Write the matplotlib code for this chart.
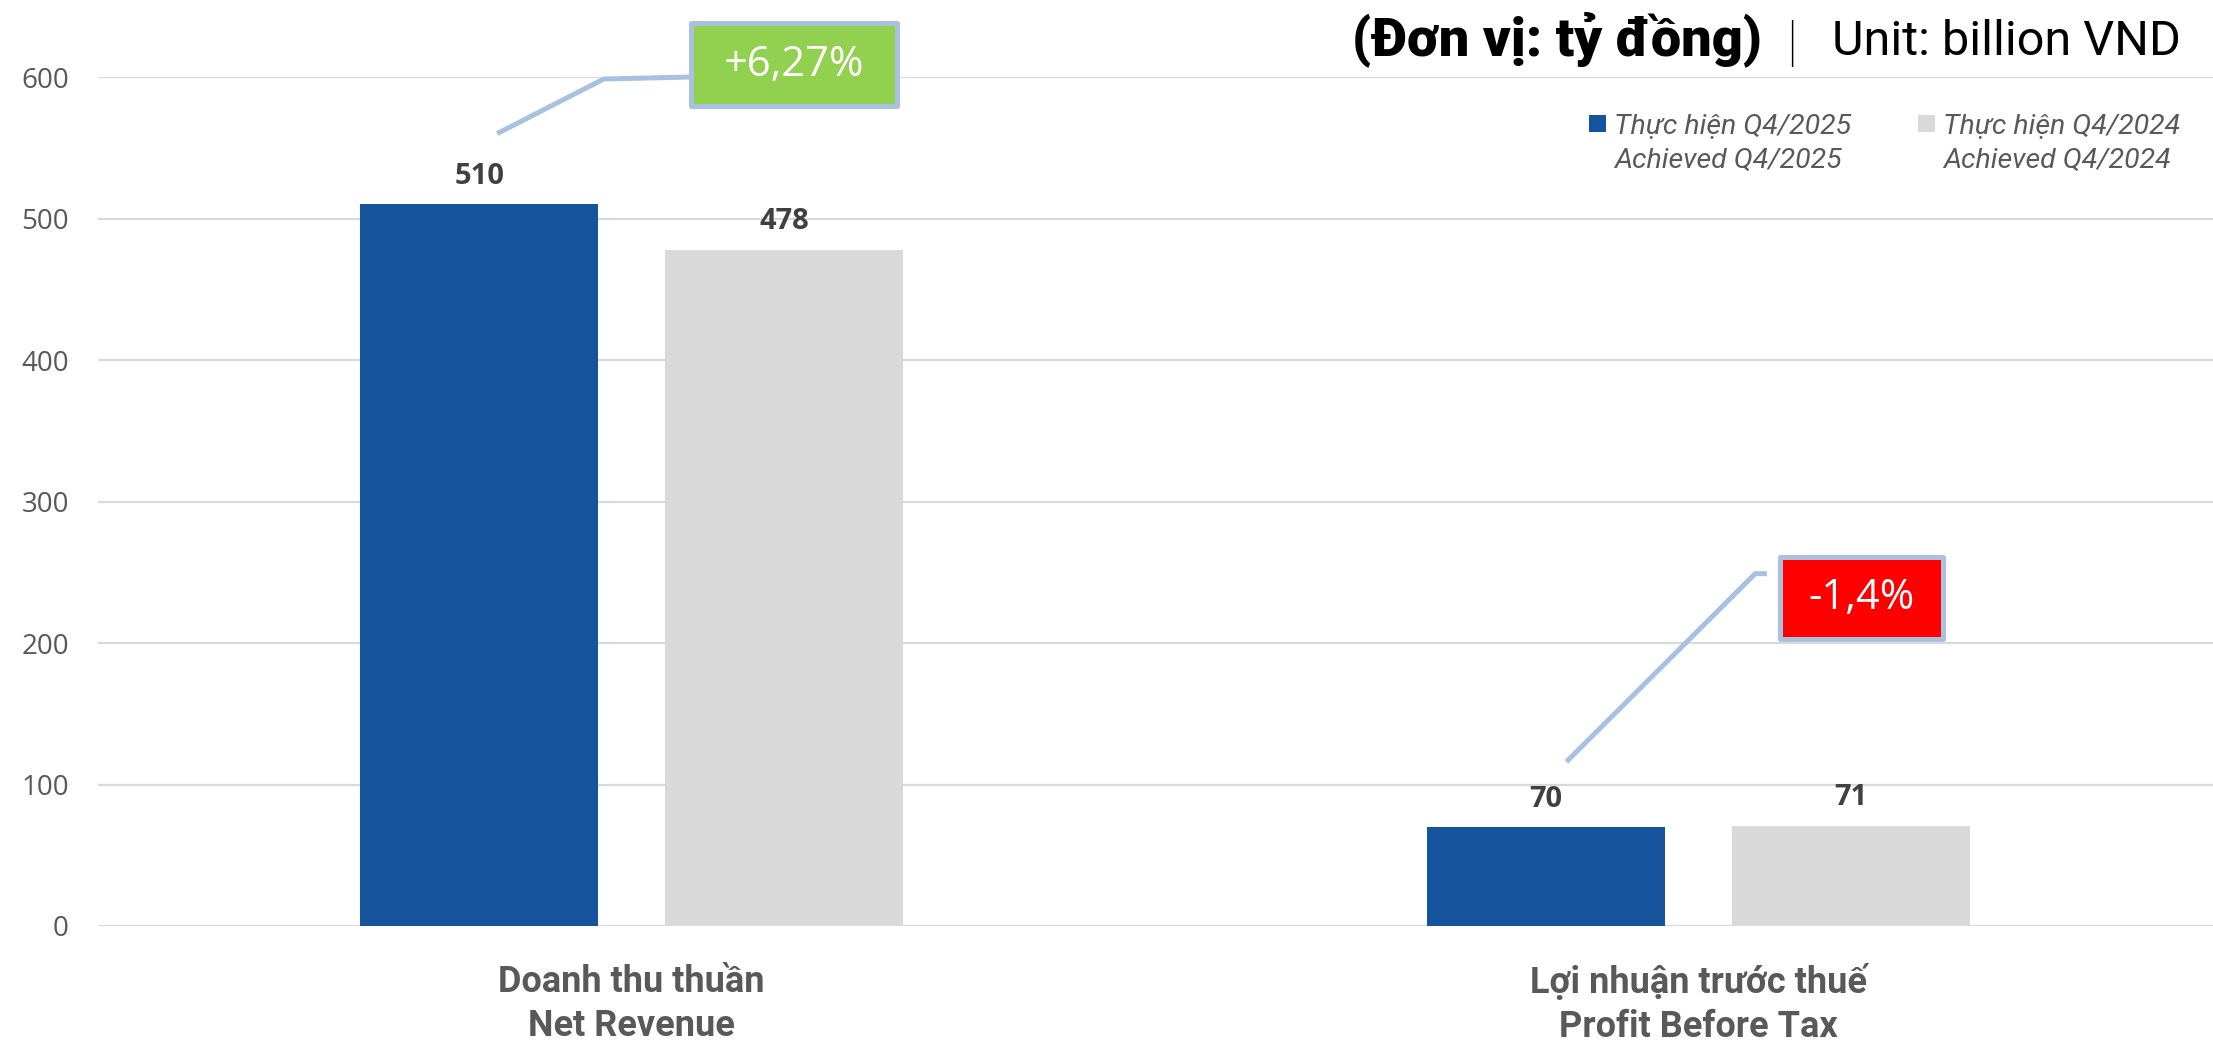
import matplotlib
matplotlib.use('Agg')
import matplotlib.pyplot as plt
from matplotlib.patches import Rectangle
import numpy as np

# ---------------- data ----------------
categories_vi = ['Doanh thu thuần', 'Lợi nhuận trước thuế']
categories_en = ['Net Revenue', 'Profit Before Tax']
series_2025 = ('Thực hiện Q4/2025', 'Achieved Q4/2025')
series_2024 = ('Thực hiện Q4/2024', 'Achieved Q4/2024')
values_2025 = [510, 70]
values_2024 = [478, 71]
changes = ['+6,27%', '-1,4%']
change_colors = ['#92D050', '#FF0000']
yticks = [0, 100, 200, 300, 400, 500, 600]

# ---------------- style ----------------
BLUE = '#15539D'
GREY = '#D9D9D9'
TXT = '#595959'
LEAD = '#A9C1DE'

W, H = 2213, 1044
fig = plt.figure(figsize=(W / 100, H / 100), dpi=100)
ax = fig.add_axes([98 / W, 1 - 926 / H, (2213 - 98) / W, (926 - 77) / H])

x = np.arange(len(categories_vi))
bw = 0.223
off = 0.1428
ax.bar(x - off, values_2025, bw, color=BLUE, zorder=3)
ax.bar(x + off, values_2024, bw, color=GREY, zorder=3)

ax.set_xlim(-0.5, 1.482)
ax.set_ylim(0, 600)
ax.set_yticks(yticks)
ax.set_yticklabels([str(t) for t in yticks], fontfamily='Open Sans', fontsize=20, color=TXT)
ax.tick_params(axis='y', length=0, pad=21)
ax.set_xticks(x)
ax.set_xticklabels([f'{vi}\n{en}' for vi, en in zip(categories_vi, categories_en)],
                   fontfamily=['Roboto', 'DejaVu Sans'], fontweight='bold', fontsize=26,
                   color=TXT, linespacing=1.3)
ax.tick_params(axis='x', length=0, pad=27)
ax.yaxis.grid(True, color='#D9D9D9', lw=1.6, zorder=0)
ax.set_axisbelow(True)
for s in ax.spines.values():
    s.set_visible(False)

# data labels
for xs, vals in ((x - off, values_2025), (x + off, values_2024)):
    for xi, v in zip(xs, vals):
        ax.annotate(str(v), (xi, v), xytext=(0, 14.5), textcoords='offset points',
                    ha='center', va='baseline', fontfamily='Open Sans', fontweight='bold',
                    fontsize=21, color='#404040', zorder=5)

# callouts (leader lines + boxes), geometry relative to group centre
callout_geom = [
    dict(line=[(-0.126, 560), (-0.026, 598.6), (0.056, 600)], box=(0.056, 579.5, 0.193, 58.5)),
    dict(line=[(-0.124, 116), (0.053, 249), (0.064, 249)], box=(0.076, 203, 0.153, 58)),
]
for i, (g, txt, col) in enumerate(zip(callout_geom, changes, change_colors)):
    lx = [x[i] + p[0] for p in g['line']]
    ly = [p[1] for p in g['line']]
    ax.plot(lx, ly, color=LEAD, lw=3.6, clip_on=False, zorder=6, solid_capstyle='butt')
    bx, by, bwid, bh = g['box']
    ax.add_patch(Rectangle((x[i] + bx, by), bwid, bh, facecolor=col, edgecolor=LEAD,
                           lw=3.6, clip_on=False, zorder=7, joinstyle='round'))
    ax.text(x[i] + bx + bwid / 2, by + bh / 2, txt, ha='center', va='center',
            fontfamily='Open Sans', fontsize=30, color='white', zorder=8)

# title
def fx(px):
    return px / W

def fy(py):
    return 1 - py / H

fig.text(fx(2181), fy(55), 'Unit: billion VND', ha='right', va='baseline',
         fontfamily='Roboto', fontweight='normal', fontsize=35, color='black')
fig.text(fx(1792), fy(60), '|', ha='center', va='baseline',
         fontfamily='Roboto', fontweight='light', fontsize=40, color='black')
fig.text(fx(1762), fy(55), '(Đơn vị: tỷ đồng)', ha='right', va='baseline',
         fontfamily=['Roboto', 'DejaVu Sans'], fontweight='black', fontsize=39, color='black')

# legend (manual)
legend_items = [(1589, BLUE, series_2025), (1918, GREY, series_2024)]
for lx0, col, (l1, l2) in legend_items:
    fig.patches.append(Rectangle((fx(lx0), fy(132)), 17 / W, 17 / H, transform=fig.transFigure,
                                 facecolor=col, edgecolor='none'))
    fig.text(fx(lx0 + 25), fy(133), l1, ha='left', va='baseline', fontfamily='Roboto',
             fontstyle='italic', fontweight='normal', fontsize=20.5, color=TXT)
    fig.text(fx(lx0 + 25), fy(168), l2, ha='left', va='baseline', fontfamily='Roboto',
             fontstyle='italic', fontweight='normal', fontsize=20.5, color=TXT)

fig.savefig('out.png', dpi=100, facecolor='white')
